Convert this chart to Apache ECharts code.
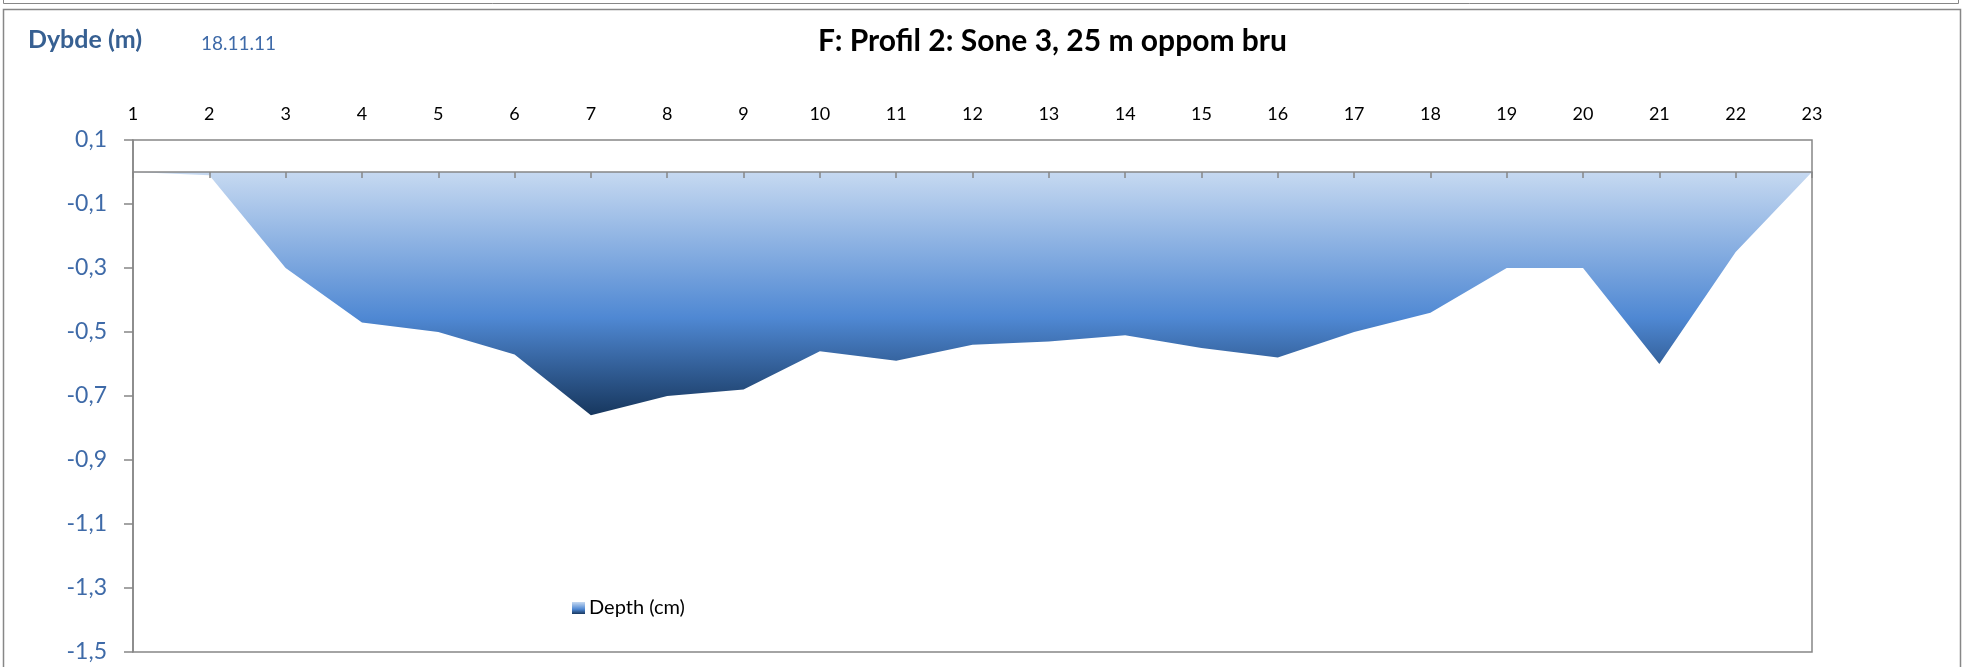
<!DOCTYPE html>
<html>
<head>
<meta charset="utf-8">
<script src="https://cdn.jsdelivr.net/npm/echarts@6/dist/echarts.min.js"></script>
<style>
  html, body { margin: 0; padding: 0; background: #fff; }
  #chart { width: 1968px; height: 667px; }
</style>
</head>
<body>
<div id="chart"></div>
<script>
// profilpunkter og dybder (m)
const punkter = ['1', '2', '3', '4', '5', '6', '7', '8', '9', '10', '11', '12',
  '13', '14', '15', '16', '17', '18', '19', '20', '21', '22', '23'];
const dybde = [0, -0.01, -0.30, -0.47, -0.50, -0.57, -0.76, -0.70, -0.68, -0.56, -0.59, -0.54,
  -0.53, -0.51, -0.55, -0.58, -0.50, -0.44, -0.30, -0.30, -0.60, -0.25, 0];
const yMin = -1.5;
const yMax = 0.1;
const yStep = 0.2;

const seriesName = 'Depth (cm)';
const fontFam = 'Lato, "Open Sans", sans-serif';
const grey = '#878787';

const fyll = (x2, y2) => new echarts.graphic.LinearGradient(0, 0, x2, y2, [
  { offset: 0, color: '#C6D9F1' },
  { offset: 0.6, color: '#4F88D3' },
  { offset: 1, color: '#17375E' }
]);

const chart = echarts.init(document.getElementById('chart'));

const option = {
  backgroundColor: '#fff',
  animation: false,
  title: [
    {
      text: 'F: Profil 2: Sone 3, 25 m oppom bru',
      left: 818, top: 26, padding: 0,
      textStyle: { fontFamily: fontFam, fontSize: 30, fontWeight: 'bold', color: '#000' }
    },
    {
      text: 'Dybde (m)',
      left: 28, top: 27, padding: 0,
      textStyle: { fontFamily: fontFam, fontSize: 25, fontWeight: 'bold', color: '#376092' }
    },
    {
      text: '18.11.11',
      left: 201, top: 34, padding: 0,
      textStyle: { fontFamily: fontFam, fontSize: 19, fontWeight: 'normal', color: '#3E6AA8' }
    }
  ],
  legend: {
    left: 572, top: 598, padding: 0,
    itemWidth: 13, itemHeight: 12, itemGap: 10,
    textStyle: { fontFamily: fontFam, fontSize: 20, color: '#000', padding: [0, 0, 0, -1] },
    data: [{ name: seriesName, icon: 'rect', itemStyle: { color: fyll(0, 1), borderWidth: 0 } }]
  },
  graphic: [
    { type: 'rect', shape: { x: 3.5, y: -10, width: 1955, height: 13.5 },
      style: { fill: 'none', stroke: grey, lineWidth: 1 }, silent: true },
    { type: 'rect', shape: { x: 3.5, y: 9.5, width: 1957, height: 700 },
      style: { fill: 'none', stroke: grey, lineWidth: 1.5 }, silent: true }
  ],
  grid: {
    left: 133, right: 156, top: 140, bottom: 15,
    show: true, borderColor: grey, borderWidth: 1.5, backgroundColor: 'transparent'
  },
  xAxis: [
    {
      type: 'category', position: 'top', data: punkter, boundaryGap: false,
      axisLine: { show: false, onZero: false }, axisTick: { show: false }, splitLine: { show: false },
      axisLabel: { fontFamily: fontFam, fontSize: 18, color: '#000', margin: 17 }
    },
    {
      type: 'category', position: 'bottom', data: punkter, boundaryGap: false, z: 10,
      axisLine: { show: true, onZero: true, onZeroAxisIndex: 0, lineStyle: { color: grey, width: 1.5 } },
      axisTick: { show: true, inside: false, length: 6, lineStyle: { color: grey, width: 1.5 } },
      axisLabel: { show: false }, splitLine: { show: false }
    }
  ],
  yAxis: {
    type: 'value', min: yMin, max: yMax, interval: yStep,
    axisLine: { show: true, lineStyle: { color: grey, width: 1.5 } },
    axisTick: { show: true, length: 9, lineStyle: { color: grey, width: 1.5 } },
    splitLine: { show: false },
    axisLabel: {
      fontFamily: fontFam, fontSize: 23, color: '#3E6AA8', margin: 26,
      formatter: v => v.toFixed(1).replace('.', ',')
    }
  },
  series: [
    {
      name: seriesName, type: 'line', xAxisIndex: 0, data: dybde,
      symbol: 'none', showSymbol: false,
      lineStyle: { width: 0 },
      itemStyle: { color: '#4F88D3' },
      areaStyle: { color: fyll(0, 1), opacity: 1 }
    }
  ]
};

chart.setOption(option);
</script>
</body>
</html>
